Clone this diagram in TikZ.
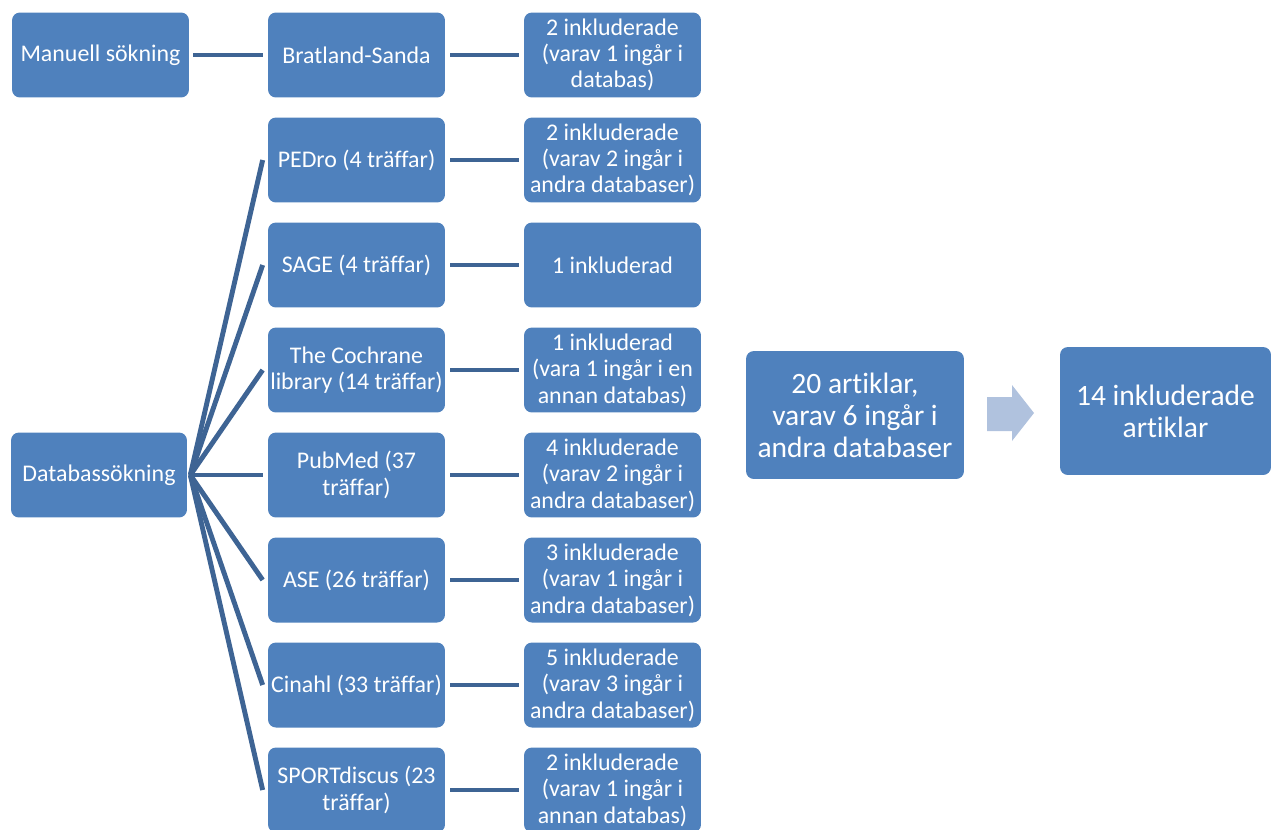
\documentclass[tikz,border=0pt]{standalone}
\usepackage{fontspec}
\setmainfont{Carlito}[Ligatures=NoCommon]
\definecolor{boxblue}{RGB}{79,129,189}
\definecolor{lineblue}{RGB}{62,100,148}
\definecolor{arrowblue}{RGB}{176,194,222}
\tikzset{
    box/.style={rectangle, rounded corners=4.5pt, fill=boxblue, text=white,
        align=center, inner sep=0pt, minimum width=3.54cm, minimum height=1.7cm,
        font=\fontsize{13.6}{15}\selectfont},
    bigbox/.style={box, minimum height=2.56cm, font=\fontsize{16.8}{18.2}\selectfont},
    link/.style={draw=lineblue, line width=2.8pt}
}
\begin{document}
\begin{tikzpicture}[x=0.02cm, y=-0.02cm]
    \useasboundingbox (0,0) rectangle (1272,829);
    \clip (0,0) rectangle (1272,829);

    % Manuell sökning
    \node[box] (man) at (100.5,55) {Manuell sökning};
    \node[box] (bra) at (356.5,55) {Bratland-Sanda};
    \node[box] (bra2) at (612.5,55) {2 inkluderade\\(varav 1 ingår i\\databas)};

    % Databassökning
    \node[box, minimum width=3.52cm] (dbs) at (99,475) {Databassökning};

    % Databaser
    \node[box] (ped) at (356.5,160) {PEDro (4 träffar)};
    \node[box] (sag) at (356.5,265) {SAGE (4 träffar)};
    \node[box] (coc) at (356.5,370) {The Cochrane\\library (14 träffar)};
    \node[box] (pub) at (356.5,475) {PubMed (37\\träffar)};
    \node[box] (ase) at (356.5,580) {ASE (26 träffar)};
    \node[box] (cin) at (356.5,685) {Cinahl (33 träffar)};
    \node[box] (spo) at (356.5,790) {SPORTdiscus (23\\träffar)};

    % Inkluderade
    \node[box] (ped2) at (612.5,160) {2 inkluderade\\(varav 2 ingår i\\andra databaser)};
    \node[box] (sag2) at (612.5,265) {1 inkluderad};
    \node[box] (coc2) at (612.5,370) {1 inkluderad\\(vara 1 ingår i en\\annan databas)};
    \node[box] (pub2) at (612.5,475) {4 inkluderade\\(varav 2 ingår i\\andra databaser)};
    \node[box] (ase2) at (612.5,580) {3 inkluderade\\(varav 1 ingår i\\andra databaser)};
    \node[box] (cin2) at (612.5,685) {5 inkluderade\\(varav 3 ingår i\\andra databaser)};
    \node[box] (spo2) at (612.5,790) {2 inkluderade\\(varav 1 ingår i\\annan databas)};

    % Resultat
    \node[bigbox, minimum width=4.36cm] (sum) at (855,415) {20 artiklar,\\varav 6 ingår i\\andra databaser};
    \node[bigbox, minimum width=4.22cm] (res) at (1165.5,411) {14 inkluderade\\artiklar};

    % Linjer
    \draw[link, shorten <=0.08cm, shorten >=0.1cm] (man) -- (bra);
    \draw[link, shorten <=0.1cm, shorten >=0.1cm] (bra) -- (bra2);
    \foreach \n in {ped,sag,coc,pub,ase,cin,spo} {
        \draw[link] ([xshift=0.06cm]dbs.east) -- ([xshift=-0.1cm]\n.west);
        \draw[link, shorten <=0.1cm, shorten >=0.1cm] (\n) -- (\n2);
    }

    % Pil
    \fill[arrowblue] (987,397) -- (1012,397) -- (1012,385) -- (1034,413)
        -- (1012,441) -- (1012,431) -- (987,431) -- cycle;
\end{tikzpicture}
\end{document}
